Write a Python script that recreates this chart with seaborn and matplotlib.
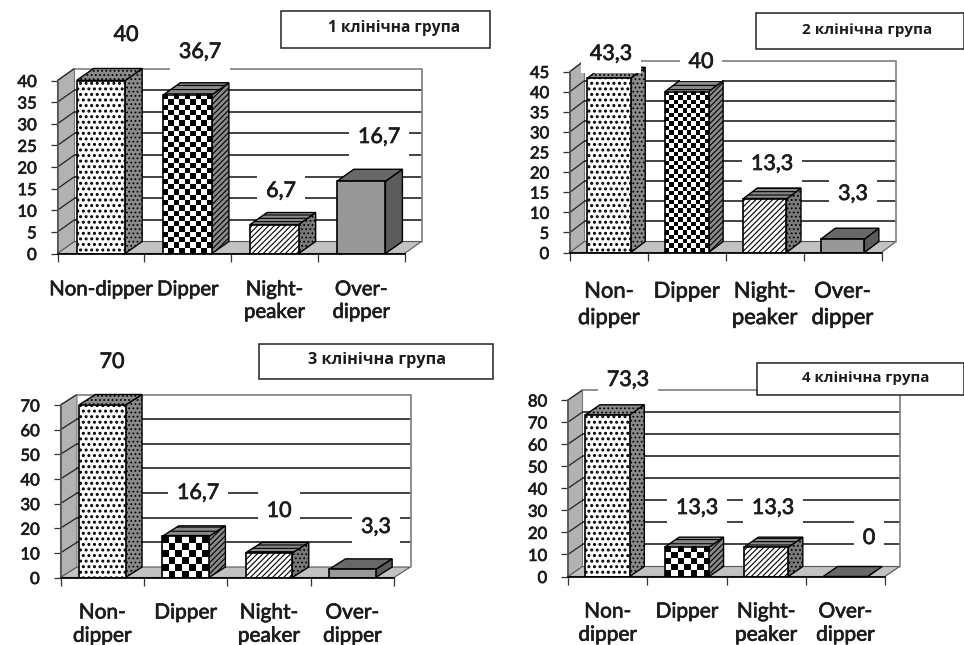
import numpy as np
import pandas as pd
import seaborn as sns
import matplotlib
matplotlib.use("Agg")
import matplotlib.pyplot as plt
import matplotlib.patheffects as pe
from matplotlib.patches import Polygon, Rectangle

categories = ["Non-dipper", "Dipper", "Night-peaker", "Over-dipper"]
labels_wide = ["Non-dipper", "Dipper", "Night-\npeaker", "Over-\ndipper"]
labels_wrapped = ["Non-\ndipper", "Dipper", "Night-\npeaker", "Over-\ndipper"]

group1 = [40, 36.7, 6.7, 16.7]
group2 = [43.3, 40, 13.3, 3.3]
group3 = [70, 16.7, 10, 3.3]
group4 = [73.3, 13.3, 13.3, 0]

ticks1 = [0, 5, 10, 15, 20, 25, 30, 35, 40]
ticks2 = [0, 5, 10, 15, 20, 25, 30, 35, 40, 45]
ticks3 = [0, 10, 20, 30, 40, 50, 60, 70]
ticks4 = [0, 10, 20, 30, 40, 50, 60, 70, 80]

titles = ["1 клінічна група", "2 клінічна група", "3 клінічна група", "4 клінічна група"]

W, H = 964, 645
sns.set_theme(style="white")
plt.rcParams['font.family'] = ['Lato', 'Open Sans', 'DejaVu Sans']
plt.rcParams['hatch.linewidth'] = 0.8
INK = "#1c1c1c"
HEAVY = [pe.withStroke(linewidth=0.5, foreground=INK)]

# layout in picture pixels: left, right, y of zero, y of top tick, depth x, depth y
frames = [
    (57.5, 404.5, 253.5, 80.5, 17, 12),
    (570, 881.5, 252.5, 71.5, 14.5, 11),
    (60.5, 394, 577.5, 405, 16.5, 10.5),
    (568, 885, 576.5, 400, 14.5, 10),
]
boxes = [
    (281, 11, 490, 48),
    (755.5, 13, 964, 49),
    (258.5, 344, 493, 379),
    (756.5, 363, 964, 395),
]
title_xy = [(394, 28), (867, 30), (377, 360), (866, 378)]
title_sizes = [11.2, 11, 11.7, 10.8]
value_xy = [
    [(126, 35), (200, 52), (281, 191), (379, 137)],
    [(611, 54), (701, 62), (772, 164), (853, 194)],
    [(112, 362), (198, 493), (279, 511), (376, 527)],
    [(628, 380), (697, 508), (773, 508), (869, 538)],
]
label_pads = [20, 21, 18, 18]
label_sizes = [14.7, 15.8, 15.0, 15.0]
label_spacing = [1.4, 1.4, 1.2, 1.2]
checker_cells = [5.3, 4.3, 6.5, 6.5]

# look of each column: front, side, top face
front_fc = ["white", "none", "white", "#989898"]
front_hatch = ["...", None, "//////", None]
side_fc = ["#8a8a8a", "#8a8a8a", "#7a7a7a", "#5c5c5c"]
side_hatch = ["....", "//////", "....", None]
top_fc = ["#8a8a8a", "#8a8a8a", "#8a8a8a", "#686868"]
top_hatch = ["....", "----", "-----", None]


def px(x, y):
    return x / W, 1 - y / H


def checker(ax, bar, cell):
    # checkerboard fill, hatch has no such pattern
    bb = bar.get_window_extent()
    nx = max(int(round(bb.width / cell)), 1)
    ny = max(int(round(bb.height / cell)), 1)
    yy, xx = np.indices((ny, nx))
    x = bar.get_x()
    ax.imshow((xx + yy) % 2, cmap="gray", aspect="auto", interpolation="nearest", zorder=4,
              extent=(x, x + bar.get_width(), 0, bar.get_height()))


def draw_panel(i, values, ticks, xlabels):
    left, right, y0, ytop, dpx, dpy = frames[i]
    ax = fig.add_axes([left / W, 1 - y0 / H, (right - left) / W, (y0 - ytop) / H])
    df = pd.DataFrame({"cat": categories, "val": values})
    sns.barplot(data=df, x="cat", y="val", color="white", width=0.56, saturation=1,
                edgecolor="black", linewidth=1.2, ax=ax)
    ymax = ticks[-1]
    ax.set_xlim(-0.5, 3.5)
    ax.set_ylim(0, ymax)
    dx = dpx / ((right - left) / 4)
    dy = dpy / ((y0 - ytop) / ymax)
    x0, x1 = -0.5, 3.5

    # back wall, side wall, floor
    ax.add_patch(Polygon([(x0, 0), (x0 + dx, dy), (x0 + dx, ymax + dy), (x0, ymax)], fc="#b2b2b2",
                         ec="#777777", lw=0.8, clip_on=False, zorder=1))
    ax.add_patch(Polygon([(x0, 0), (x0 + dx, dy), (x1 + dx, dy), (x1, 0)], fc="#c2c2c2",
                         ec="#555555", lw=0.8, clip_on=False, zorder=1))
    for t in ticks[1:-1]:
        ax.plot([x0 + dx, x1 + dx], [t + dy, t + dy], color="#222222", lw=1.2, clip_on=False, zorder=1)
    for t in ticks[1:]:
        ax.plot([x0, x0 + dx], [t, t + dy], color="#222222", lw=0.9, clip_on=False, zorder=1)
    ax.plot([x0 + dx, x1 + dx, x1 + dx], [ymax + dy, ymax + dy, dy], color="#888888", lw=1.3,
            clip_on=False, zorder=1)

    # columns
    for j, bar in enumerate(ax.patches[:4]):
        bx, bw, bh = bar.get_x(), bar.get_width(), bar.get_height()
        ax.add_patch(Polygon([(bx + bw, 0), (bx + bw + dx, dy), (bx + bw + dx, bh + dy), (bx + bw, bh)],
                             fc=side_fc[j], ec="black", lw=1, hatch=side_hatch[j], clip_on=False, zorder=3))
        ax.add_patch(Polygon([(bx, bh), (bx + dx, bh + dy), (bx + bw + dx, bh + dy), (bx + bw, bh)],
                             fc=top_fc[j], ec="black", lw=1, hatch=top_hatch[j], clip_on=False, zorder=3))
        bar.set_facecolor(front_fc[j])
        bar.set_hatch(front_hatch[j])
        if j == 0:
            bar.set_hatch_linewidth(1.4)
        bar.set_zorder(5)
        if j == 1:
            checker(ax, bar, checker_cells[i])
    ax.set_xlim(-0.5, 3.5)
    ax.set_ylim(0, ymax)

    for s in ["top", "right"]:
        ax.spines[s].set_visible(False)
    ax.spines["left"].set_color("#555555")
    ax.spines["bottom"].set_color("black")
    ax.spines["bottom"].set_zorder(6)
    ax.set_xlabel("")
    ax.set_ylabel("")
    ax.set_xticks(range(4))
    ax.set_xticklabels(xlabels)
    ax.set_xticks([-0.5, 0.5, 1.5, 2.5, 3.5], minor=True)
    ax.tick_params(axis="x", which="major", length=0, pad=label_pads[i], labelsize=label_sizes[i], labelcolor=INK)
    ax.tick_params(axis="x", which="minor", length=5.5, width=0.9, color="#333333", bottom=True)
    ax.set_yticks(ticks)
    ax.tick_params(axis="y", length=5, width=0.9, color="#333333", left=True, pad=10, labelsize=12, labelcolor=INK)
    for lab in ax.get_xticklabels():
        lab.set_linespacing(label_spacing[i])
        lab.set_path_effects(HEAVY)
    for lab in ax.get_yticklabels():
        lab.set_path_effects(HEAVY)

    # value labels knock out the grid behind them
    for v, (tx, ty) in zip(values, value_xy[i]):
        xf, yf = px(tx, ty)
        fig.text(xf, yf, f"{v:g}".replace(".", ","), ha="center", va="center", fontsize=15.5, color=INK,
                 bbox=dict(fc="white", ec="none", pad=6.5), zorder=10, path_effects=HEAVY)

    # title box
    bl, bt, br, bb = boxes[i]
    fig.add_artist(Rectangle(px(bl, bb), (br - bl) / W, (bb - bt) / H, transform=fig.transFigure,
                             fc="white", ec="#222222", lw=1.1, zorder=11))
    xf, yf = px(*title_xy[i])
    fig.text(xf, yf, titles[i], ha="center", va="center", fontsize=title_sizes[i], fontweight="bold", color=INK,
             family=["Open Sans", "DejaVu Sans"], zorder=12)


fig = plt.figure(figsize=(W / 100, H / 100), dpi=100, facecolor="white")
draw_panel(0, group1, ticks1, labels_wide)
draw_panel(1, group2, ticks2, labels_wrapped)
draw_panel(2, group3, ticks3, labels_wrapped)
draw_panel(3, group4, ticks4, labels_wrapped)
fig.savefig("out.png", dpi=100)
